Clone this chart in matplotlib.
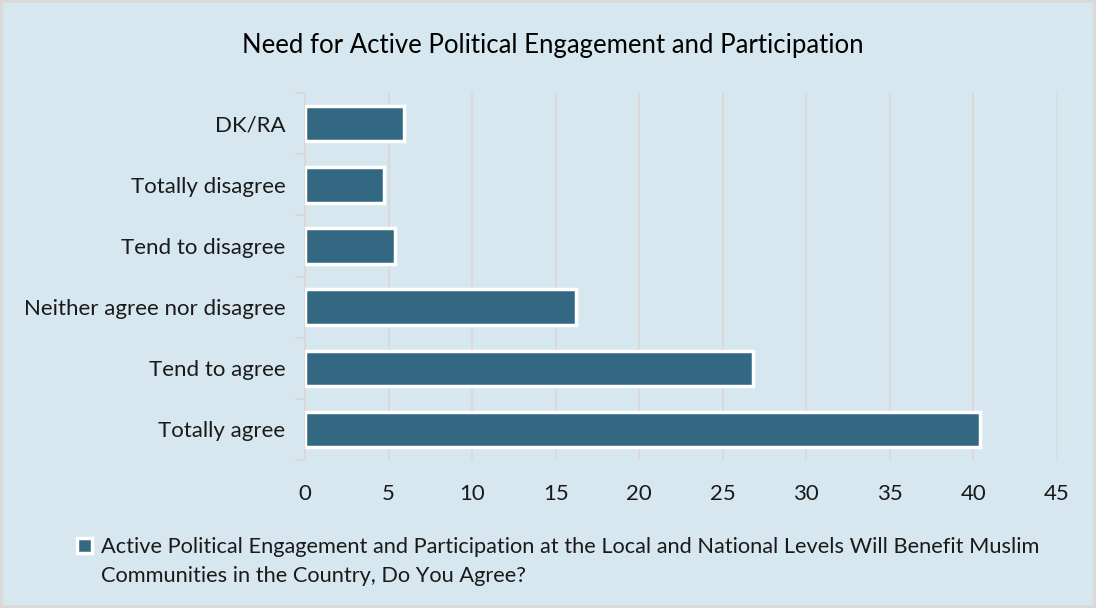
import matplotlib.pyplot as plt
import numpy as np

categories = [
    "Totally agree",
    "Tend to agree",
    "Neither agree nor disagree",
    "Tend to disagree",
    "Totally disagree",
    "DK/RA",
]
values = [40.4, 26.8, 16.2, 5.4, 4.7, 5.9]
series_label = ["Active Political Engagement and Participation at the Local and National Levels Will Benefit Muslim",
                "Communities in the Country, Do You Agree?"]
title = "Need for Active Political Engagement and Participation"

BG = "#D7E7F0"
BAR = "#336882"
GRID = "#D9D9D9"
TEXT = "#1a1a1a"

plt.rcParams["font.family"] = ["Lato", "DejaVu Sans"]

fig = plt.figure(figsize=(10.96, 6.08), dpi=100, facecolor=BG,
                 edgecolor=GRID, linewidth=3)
ax = fig.add_axes([0.2783, 0.2434, 0.686, 0.6036])
ax.set_facecolor(BG)

pos = np.arange(len(categories))
bars = ax.barh(pos, values, height=0.58, color=BAR, edgecolor="white",
               linewidth=2.5, zorder=3)

ax.set_xlim(0, 45)
ax.set_ylim(-0.5, len(categories) - 0.5)
ax.set_xticks(np.arange(0, 46, 5))
ax.set_yticks(pos)
ax.set_yticklabels(categories)
ax.set_yticks(np.arange(-0.5, len(categories)), minor=True)
ax.tick_params(axis="y", which="major", length=0, pad=14, labelsize=16,
               labelcolor=TEXT)
ax.tick_params(axis="y", which="minor", length=7, color=GRID, width=1.5)
ax.tick_params(axis="x", length=0, pad=17, labelsize=16, labelcolor=TEXT)

ax.grid(axis="x", color=GRID, linewidth=1.5, zorder=0)
for side in ["top", "right", "bottom"]:
    ax.spines[side].set_visible(False)
ax.spines["left"].set_color(GRID)
ax.spines["left"].set_linewidth(1.5)

fig.text(0.504, 0.925, title, ha="center", va="center", fontsize=18.5, color="black")

# legend holds the first line; the wrapped remainder sits underneath it
leg = fig.legend(handles=[bars], labels=[series_label[0]], loc="upper left",
                 bbox_to_anchor=(0.052, 0.149), frameon=False, fontsize=15.7,
                 handlelength=0.7, handleheight=0.7, handletextpad=0.4,
                 labelcolor=TEXT)
fig.canvas.draw()
bb = leg.get_texts()[0].get_window_extent().transformed(fig.transFigure.inverted())
fig.text(bb.x0, bb.y0 - 29 / 608, series_label[1], ha="left", va="bottom",
         fontsize=15.7, color=TEXT)

fig.savefig("out.png", dpi=100, facecolor=BG, edgecolor=GRID)
